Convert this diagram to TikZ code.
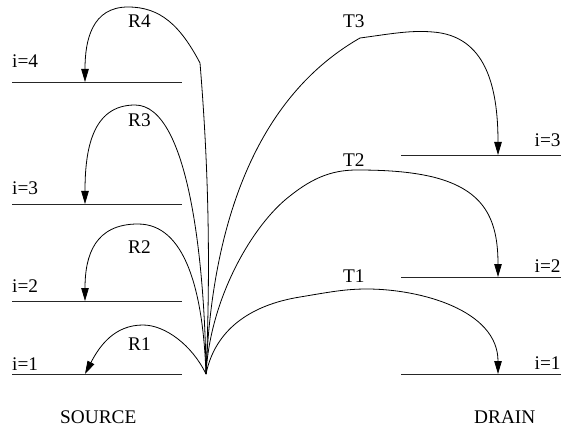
\documentclass[tikz,border=0pt]{standalone}
\usepackage{fontspec}
\setmainfont{Liberation Serif}
\usetikzlibrary{arrows.meta}
\begin{document}
\begin{tikzpicture}[x=1pt,y=-1pt,
  level/.style={line width=0.9pt,draw=black!85},
  path/.style={line width=0.8pt,draw=black},
  ray/.style={path,-{Triangle[length=13pt,width=7.5pt]}},
  lbl/.style={anchor=base west,inner sep=0pt,font=\fontsize{19.3}{21}\selectfont}]
\useasboundingbox (0,0) rectangle (561,430);

% common emission point
\coordinate (F) at (206,374);

% source levels
\foreach \n/\y in {1/374,2/301,3/204,4/82}{
  \coordinate (s\n w) at (12,\y);
  \coordinate (s\n e) at (182,\y);
  \coordinate (s\n t) at (85,\y);
  \draw[level] (s\n w) -- (s\n e);
}
% drain levels
\foreach \n/\y in {1/374,2/277,3/155}{
  \coordinate (d\n w) at (401,\y);
  \coordinate (d\n e) at (561,\y);
  \coordinate (d\n t) at (498,\y);
  \draw[level] (d\n w) -- (d\n e);
}

% level labels
\node[lbl] (ls1) at (12,370.7) {i=1};
\node[lbl] (ls2) at (12,292.7) {i=2};
\node[lbl] (ls3) at (12,195) {i=3};
\node[lbl] (ls4) at (12,68) {i=4};
\node[lbl] (ld1) at (534.5,369) {i=1};
\node[lbl] (ld2) at (534.5,272) {i=2};
\node[lbl] (ld3) at (534.5,147) {i=3};

% reflected paths
\draw[ray] (F) .. controls (192,345) and (165,325) .. (143,325)
               .. controls (115,325) and (100,345) .. (s1t);
\draw[ray] (F) .. controls (203,290) and (185,224) .. (138,224)
               .. controls (95,224) and (85,255) .. (s2t);
\draw[ray] (F) .. controls (205,270) and (190,105) .. (135,105)
               .. controls (92,105) and (85,150) .. (s3t);
\draw[ray] (F) .. controls (211,260) and (208,160) .. (200,63)
               .. controls (180,25) and (160,7) .. (128,7)
               .. controls (92,7) and (85,40) .. (s4t);

% transmitted paths
\draw[ray] (F) .. controls (215,330) and (250,305) .. (300,297)
               .. controls (330,292) and (345,289) .. (367,289)
               .. controls (420,289) and (498,310) .. (d1t);
\draw[ray] (F) .. controls (210,300) and (250,230) .. (285,200)
               .. controls (310,179) and (330,170) .. (357,170)
               .. controls (400,170) and (420,174) .. (433,177)
               .. controls (485,190) and (498,220) .. (d2t);
\draw[ray] (F) .. controls (211,240) and (248,102) .. (360,38)
               .. controls (390,34) and (410,30) .. (433,32)
               .. controls (485,36) and (498,85) .. (d3t);

% path labels
\node[lbl] (r1) at (128,350) {R1};
\node[lbl] (r2) at (128,253) {R2};
\node[lbl] (r3) at (128,127) {R3};
\node[lbl] (r4) at (128,28) {R4};
\node[lbl] (t1) at (343,282) {T1};
\node[lbl] (t2) at (343,167) {T2};
\node[lbl] (t3) at (343,28) {T3};

% electrode names
\node[lbl] (src) at (60,423) {SOURCE};
\node[lbl] (drn) at (474,423) {DRAIN};
\end{tikzpicture}
\end{document}
